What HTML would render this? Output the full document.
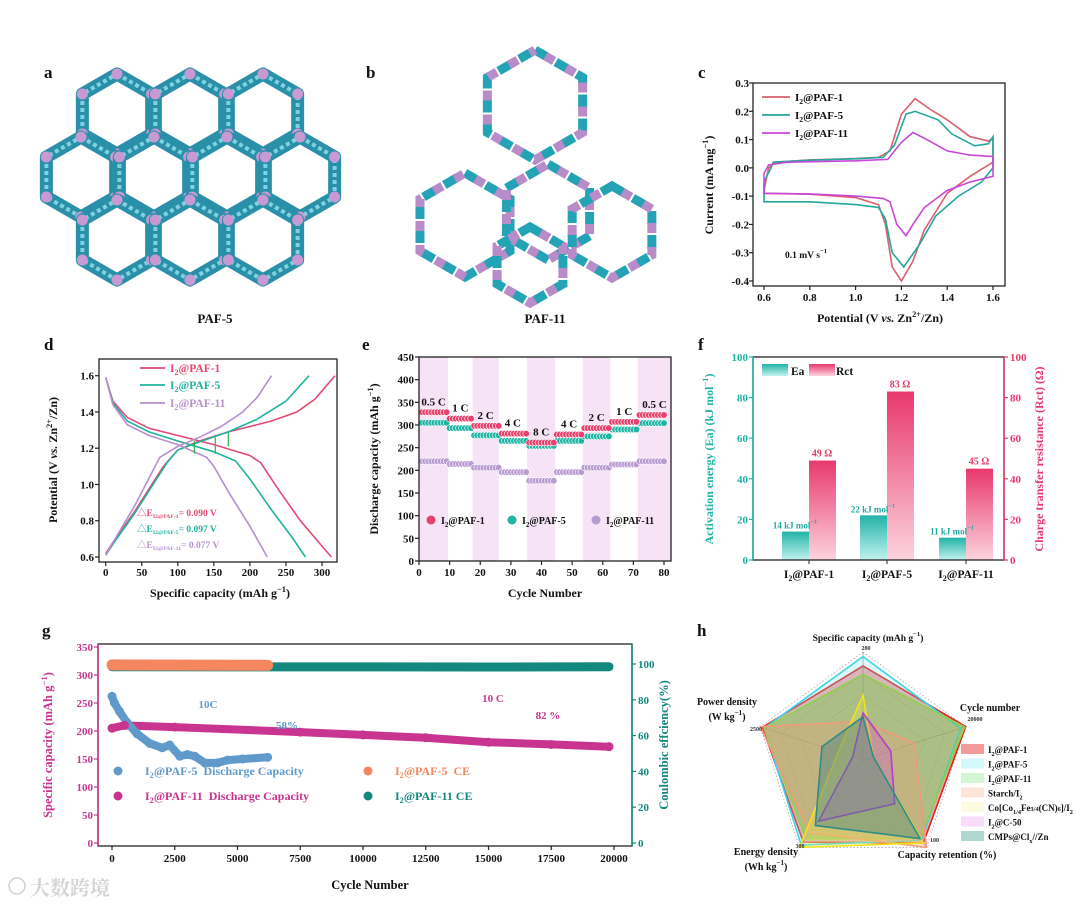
<!DOCTYPE html>
<html><head><meta charset="utf-8"><style>
html,body{margin:0;padding:0;background:#fff;}
svg{display:block;font-family:"Liberation Serif","Noto Serif CJK SC",serif;font-weight:bold;}
</style></head><body>
<svg id="fig" width="1080" height="913" viewBox="0 0 1080 913" xmlns="http://www.w3.org/2000/svg">
<defs>
<linearGradient id="gEa" x1="0" y1="0" x2="0" y2="1"><stop offset="0" stop-color="#22b3a8"/><stop offset="1" stop-color="#c2f2ef"/></linearGradient>
<linearGradient id="gRct" x1="0" y1="0" x2="0" y2="1"><stop offset="0" stop-color="#e8386d"/><stop offset="1" stop-color="#fcd3de"/></linearGradient>
</defs>
</svg>
<script>
// ===== Data: panel c (CV) =====
const cvPaf1 = [[0.6,-0.08],[0.62,0.0],[0.65,0.02],[0.8,0.028],[1.0,0.033],[1.1,0.037],[1.15,0.06],[1.2,0.19],[1.26,0.245],[1.32,0.21],[1.4,0.17],[1.5,0.11],[1.58,0.095],[1.6,0.105],[1.6,0.02],[1.5,-0.03],[1.4,-0.09],[1.3,-0.22],[1.25,-0.33],[1.2,-0.40],[1.16,-0.35],[1.13,-0.2],[1.1,-0.13],[1.0,-0.105],[0.8,-0.093],[0.6,-0.09],[0.6,-0.08]];
const cvPaf5 = [[0.6,-0.05],[0.63,0.0],[0.64,0.02],[0.8,0.027],[1.0,0.032],[1.12,0.037],[1.17,0.08],[1.22,0.19],[1.26,0.2],[1.36,0.17],[1.42,0.12],[1.52,0.078],[1.58,0.085],[1.6,0.11],[1.6,0.0],[1.55,-0.05],[1.45,-0.1],[1.35,-0.17],[1.28,-0.27],[1.21,-0.35],[1.16,-0.3],[1.13,-0.18],[1.1,-0.14],[1.0,-0.13],[0.8,-0.12],[0.6,-0.12],[0.6,-0.05]];
const cvPaf11 = [[0.6,-0.02],[0.62,0.01],[0.7,0.02],[1.0,0.025],[1.14,0.03],[1.2,0.09],[1.25,0.125],[1.3,0.105],[1.4,0.06],[1.5,0.045],[1.6,0.04],[1.6,-0.03],[1.5,-0.05],[1.4,-0.08],[1.3,-0.14],[1.25,-0.2],[1.22,-0.24],[1.18,-0.2],[1.15,-0.12],[1.12,-0.108],[1.0,-0.1],[0.8,-0.092],[0.6,-0.09],[0.6,-0.02]];
const cvTicksX = [0.6,0.8,1.0,1.2,1.4,1.6];
const cvTicksY = [-0.4,-0.3,-0.2,-0.1,0.0,0.1,0.2,0.3];
// ===== Data: panel d (GCD) =====
const dDis1 = [[0,1.59],[10,1.46],[30,1.37],[60,1.31],[100,1.27],[150,1.22],[200,1.16],[215,1.12],[240,0.97],[270,0.8],[300,0.66],[313,0.6]];
const dChg1 = [[0,0.62],[10,0.68],[40,0.85],[80,1.1],[100,1.19],[130,1.24],[170,1.29],[230,1.35],[265,1.40],[290,1.47],[318,1.6]];
const dDis5 = [[0,1.59],[10,1.45],[30,1.35],[60,1.29],[100,1.24],[150,1.18],[180,1.13],[200,1.03],[230,0.86],[260,0.7],[277,0.6]];
const dChg5 = [[0,0.61],[10,0.67],[40,0.84],[85,1.12],[100,1.19],[130,1.235],[170,1.29],[210,1.36],[250,1.46],[282,1.6]];
const dDis11 = [[0,1.59],[10,1.44],[30,1.33],[60,1.27],[100,1.22],[140,1.15],[150,1.1],[170,0.96],[200,0.77],[224,0.6]];
const dChg11 = [[0,0.61],[10,0.68],[40,0.88],[75,1.15],[100,1.21],[130,1.26],[160,1.32],[190,1.4],[210,1.48],[230,1.6]];
const dArrows = [[123,1.17,1.24],[152,1.17,1.26],[170,1.21,1.29]];
const dTicksX = [0,50,100,150,200,250,300];
const dTicksY = [0.6,0.8,1.0,1.2,1.4,1.6];
// ===== Data: panel e (rate) =====
const eRates = ["0.5 C","1 C","2 C","4 C","8 C","4 C","2 C","1 C","0.5 C"];
const eBlockEdges = [0,9.5,17.5,26,35.3,44.5,53.5,62.5,71.5,82.3];
const ePaf1 = [328,314,298,281,261,279,293,307,322];
const ePaf5 = [305,293,277,265,254,265,275,290,304];
const ePaf11 = [220,214,206,196,177,196,206,213,220];
const eTicksX = [0,10,20,30,40,50,60,70,80];
const eTicksY = [0,50,100,150,200,250,300,350,400,450];
// ===== Data: panel f (bars) =====
const fCats = ["PAF-1","PAF-5","PAF-11"];
const fEa = [14,22,11];
const fRct = [49,83,45];
const fTicks = [0,20,40,60,80,100];
// ===== Data: panel g (cycling) =====
const gPaf5Cap = [[0,262],[100,250],[300,235],[600,215],[1000,195],[1500,178],[2000,170],[2300,175],[2700,155],[3000,158],[3300,155],[3700,143],[4200,143],[4600,148],[5200,150],[6200,153]];
const gPaf11Cap = [[0,205],[500,210],[2500,207],[7500,198],[10000,193],[12500,188],[15000,180],[17500,176],[19800,172]];
const gPaf5CE = [[0,99.5],[6200,99.3]];
const gPaf11CE = [[0,98.5],[14800,98.3],[19800,98.5]];
const gTicksX = [0,2500,5000,7500,10000,12500,15000,17500,20000];
const gTicksY = [0,50,100,150,200,250,300,350];
const gTicksR = [0,20,40,60,80,100];
// ===== Data: panel h (radar) =====
const hAxes = ["Specific capacity","Cycle number","Capacity retention","Energy density","Power density"];
const hMax = [280,20000,100,300,2500];
const hSeriesNames = ["PAF-1","PAF-5","PAF-11","Starch","Co","C50","CMPs"];
const hPaf1 = [244,20000,95,282,2450];
const hPaf5 = [268,19000,92,292,2400];
const hPaf11 = [222,19800,90,270,2400];
const hStarch = [100,10000,100,250,2500];
const hCo = [168,2000,95,300,600];
const hC50 = [122,5400,50,210,250];
const hCMP = [112,2000,90,225,1000];

const NS = "http://www.w3.org/2000/svg";
const S = document.getElementById('fig');
function el(tag, attrs, name, parent){
  const e = document.createElementNS(NS, tag);
  for (const k in attrs) e.setAttribute(k, attrs[k]);
  
  
  (parent || S).appendChild(e);
  return e;
}
function tx(x, y, html, size, fill, anchor, name, rot){
  const a = {x:x, y:y, 'font-size':size, fill:fill||'#111', 'text-anchor':anchor||'start'};
  if (rot) a.transform = 'rotate(' + rot + ' ' + x + ' ' + y + ')';
  const t = el('text', a, name);
  t.innerHTML = html;
  return t;
}
const sub = s => '<tspan font-size="70%" dy="3">' + s + '</tspan><tspan dy="-3">';
const I2 = n => 'I' + sub('2') + '@' + n + '</tspan>';
const sup = s => '<tspan font-size="70%" dy="-5">' + s + '</tspan><tspan dy="5">';
function frame(x0,y0,x1,y1,name,stroke){ el('rect',{x:x0,y:y0,width:x1-x0,height:y1-y0,fill:'none',stroke:stroke||'#222','stroke-width':1.3},name); }
function xTicks(vals, f, yb, ylab, fmt, name, size){
  vals.forEach(v => {
    el('line',{x1:f(v),x2:f(v),y1:yb,y2:yb+4,stroke:'#222','stroke-width':1.2}, name+'-tick');
    tx(f(v), ylab, fmt(v), size||11, '#111', 'middle', name+'-label');
  });
}
function yTicks(vals, f, xb, xlab, fmt, name, color, anchor, dir){
  vals.forEach(v => {
    el('line',{x1:xb,x2:xb+(dir||-4),y1:f(v),y2:f(v),stroke:color||'#222','stroke-width':1.2}, name+'-tick');
    tx(xlab, f(v)+4, fmt(v), 11, color||'#111', anchor||'end', name+'-label');
  });
}
function path(pts, fx, fy){ return pts.map((p,i)=>(i?'L':'M')+fx(p[0]).toFixed(1)+','+fy(p[1]).toFixed(1)).join(''); }

// ===== Panel a =====
tx(44,78,'a',17,'#111','start','panel-a-label');
const aCenters = [[117,114],[190,114],[263,114],[81,177],[154,177],[227,177],[300,177],[117,240],[190,240],[263,240]];
function hexPts(cx,cy,R){ let s=[]; for(let k=0;k<6;k++){const a=Math.PI/180*(60*k-90); s.push([cx+R*Math.cos(a), cy+R*Math.sin(a)]);} return s; }
aCenters.forEach(c => {
  const p = hexPts(c[0],c[1],40);
  el('polygon',{points:p.map(q=>q.join(',')).join(' '),fill:'none',stroke:'#2a8fa8','stroke-width':13,'stroke-linejoin':'round'},'paf5-hex-wall');
  el('polygon',{points:p.map(q=>q.join(',')).join(' '),fill:'none',stroke:'#7fd3e0','stroke-width':4,'stroke-dasharray':'4 3'},'paf5-hex-highlight');
  p.forEach(q => el('circle',{cx:q[0],cy:q[1],r:5.5,fill:'#c79ad3'},'paf5-node'));
});
tx(215,323,'PAF-5',13,'#111','middle','paf5-caption');
// ===== Panel b =====
tx(366,78,'b',17,'#111','start','panel-b-label');
const bRings = [[535,105,55],[465,225,52],[548,212,48],[612,232,46],[530,265,38]];
bRings.forEach(r => {
  const p = hexPts(r[0],r[1],r[2]).map(q=>q.join(',')).join(' ');
  el('polygon',{points:p,fill:'none',stroke:'#23a3b5','stroke-width':9,'stroke-dasharray':'14 10'},'paf11-ring-cyan');
  el('polygon',{points:p,fill:'none',stroke:'#b88bc9','stroke-width':9,'stroke-dasharray':'10 14','stroke-dashoffset':12},'paf11-ring-purple');
});
tx(545,323,'PAF-11',13,'#111','middle','paf11-caption');

// ===== Panel c =====
tx(698,78,'c',17,'#111','start','panel-c-label');
const xc = v => 764 + (v-0.6)*229, yc = v => 83 + (0.3-v)/0.7*198;
[[cvPaf1,'#d9606e','cv-paf1'],[cvPaf5,'#21a89c','cv-paf5'],[cvPaf11,'#c846d8','cv-paf11']].forEach(s => el('path',{d:path(s[0],xc,yc),fill:'none',stroke:s[1],'stroke-width':1.6},s[2]));
frame(753,83,1005,286,'cv-frame');
xTicks(cvTicksX, xc, 286, 301, v=>v.toFixed(1), 'cv-x');
yTicks(cvTicksY, yc, 753, 749, v=>v.toFixed(1), 'cv-y');
tx(713,185,'Current (mA mg'+sup('−1')+')</tspan>',12,'#111','middle','cv-y-title',-90);
tx(880,322,'Potential (V <tspan font-style="italic">vs.</tspan> Zn'+sup('2+')+'/Zn)</tspan>',12,'#111','middle','cv-x-title');
[['PAF-1','#d9606e',97],['PAF-5','#21a89c',115],['PAF-11','#c846d8',133]].forEach(l => {
  el('line',{x1:762,x2:790,y1:l[2],y2:l[2],stroke:l[1],'stroke-width':1.8},'cv-legend-line');
  tx(795,l[2]+4,I2(l[0]),11,'#111','start','cv-legend-entry');
});
tx(785,258,'0.1 mV s'+sup('−1')+'</tspan>',9.5,'#111','start','cv-scan-rate');

// ===== Panel d =====
tx(44,350,'d',17,'#111','start','panel-d-label');
const xd = v => 105.7 + v/300*216.3, yd = v => 557 - (v-0.6)*181.3;
const dCols = ['#e44a72','#1fb3a0','#b68fd0'];
[[dDis1,0],[dChg1,0],[dDis5,1],[dChg5,1],[dDis11,2],[dChg11,2]].forEach(s => el('path',{d:path(s[0],xd,yd),fill:'none',stroke:dCols[s[1]],'stroke-width':1.6},'gcd-curve'));
dArrows.forEach(a => el('line',{x1:xd(a[0]),x2:xd(a[0]),y1:yd(a[1]),y2:yd(a[2]),stroke:'#2bb34a','stroke-width':1.2},'gcd-overpotential-arrow'));
frame(99,359,337,562,'gcd-frame');
xTicks(dTicksX, xd, 562, 576, v=>v, 'gcd-x');
yTicks(dTicksY, yd, 99, 94, v=>v.toFixed(1), 'gcd-y');
tx(57,460,'Potential (V <tspan font-style="italic">vs.</tspan> Zn'+sup('2+')+'/Zn)</tspan>',12,'#111','middle','gcd-y-title',-90);
tx(220,597,'Specific capacity (mAh g'+sup('−1')+')</tspan>',12,'#111','middle','gcd-x-title');
[['PAF-1',368],['PAF-5',385],['PAF-11',403]].forEach((l,i) => {
  el('line',{x1:140,x2:165,y1:l[1],y2:l[1],stroke:dCols[i],'stroke-width':1.8},'gcd-legend-line');
  tx(170,l[1]+4,I2(l[0]),11.5,dCols[i],'start','gcd-legend-entry');
});
[['PAF-1','0.090',516],['PAF-5','0.097',532],['PAF-11','0.077',548]].forEach((l,i) => {
  tx(137,l[2],'△E<tspan font-size="60%" dy="2">I2@'+l[0]+'</tspan><tspan dy="-2">= '+l[1]+' V</tspan>',9.5,dCols[i],'start','gcd-delta-e');
});

// ===== Panel e =====
tx(362,350,'e',17,'#111','start','panel-e-label');
const xe = v => 419 + v/80*245, ye = v => 561 - v/450*204;
for (let i=0;i<9;i++){
  if (i%2===0) el('rect',{x:xe(eBlockEdges[i]),y:357,width:Math.min(xe(eBlockEdges[i+1]),671)-xe(eBlockEdges[i]),height:204,fill:'#f6e4f6'},'rate-shade');
}
const eCols = ['#e8416e','#1fb5a5','#b99bd2'];
[ePaf11,ePaf5,ePaf1].forEach((arr,si) => {
  const col = eCols[2-si];
  for (let c=1;c<=80;c++){
    let b=0; while (b<8 && c>eBlockEdges[b+1]) b++;
    el('circle',{cx:xe(c),cy:ye(arr[b]),r:3.3,fill:col,stroke:'#fff','stroke-width':0.6},'rate-point');
  }
});
for (let i=0;i<9;i++){
  const cx = (xe(eBlockEdges[i]) + Math.min(xe(eBlockEdges[i+1]),671))/2;
  tx(cx, ye(ePaf1[i])-7, eRates[i], 11, '#111','middle','rate-label');
}
frame(419,357,671,561,'rate-frame');
xTicks(eTicksX, xe, 561, 576, v=>v, 'rate-x');
yTicks(eTicksY, ye, 419, 414, v=>v, 'rate-y');
tx(378,459,'Discharge capacity (mAh g'+sup('−1')+')</tspan>',12,'#111','middle','rate-y-title',-90);
tx(545,597,'Cycle Number',12,'#111','middle','rate-x-title');
[['PAF-1',431],['PAF-5',512],['PAF-11',596]].forEach((l,i) => {
  el('circle',{cx:l[1],cy:520,r:4.5,fill:eCols[i]},'rate-legend-marker');
  tx(l[1]+10,524,I2(l[0]),10,'#111','start','rate-legend-entry');
});

// ===== Panel f =====
tx(698,350,'f',17,'#111','start','panel-f-label');
const fCenters = [809,887,966];
const yf = v => 560 - v*2.03;
fCats.forEach((c,i) => {
  el('rect',{x:fCenters[i]-27,y:yf(fEa[i]),width:27,height:560-yf(fEa[i]),fill:'url(#gEa)'},'ea-bar');
  el('rect',{x:fCenters[i],y:yf(fRct[i]),width:27,height:560-yf(fRct[i]),fill:'url(#gRct)'},'rct-bar');
  tx(fCenters[i]-14,yf(fEa[i])-3,fEa[i]+' kJ mol'+sup('−1')+'</tspan>',9,'#1faa9f','middle','ea-value');
  tx(fCenters[i]+13,yf(fRct[i])-4,fRct[i]+' Ω',10,'#e03a6a','middle','rct-value');
  tx(fCenters[i],578,I2(c),11.5,'#111','middle','f-x-label');
  el('line',{x1:fCenters[i],x2:fCenters[i],y1:560,y2:564,stroke:'#222'},'f-x-tick');
});
frame(753,357,1004,560,'f-frame');
el('line',{x1:753,x2:753,y1:357,y2:560,stroke:'#1fb3a5','stroke-width':1.5},'f-left-axis');
el('line',{x1:1004,x2:1004,y1:357,y2:560,stroke:'#e8386d','stroke-width':1.5},'f-right-axis');
yTicks(fTicks, yf, 753, 748, v=>v, 'f-y-left', '#1fb3a5');
yTicks(fTicks, yf, 1004, 1010, v=>v, 'f-y-right', '#e8386d', 'start', 4);
tx(713,459,'Activation energy (Ea) (kJ mol'+sup('−1')+')</tspan>',12,'#1fb3a5','middle','f-y-left-title',-90);
tx(1043,459,'Charge transfer resistance (Rct) (Ω)',12,'#e8386d','middle','f-y-right-title',-90);
el('rect',{x:762,y:364,width:26,height:12,fill:'url(#gEa)'},'f-legend-ea-swatch');
tx(791,375,'Ea',11.5,'#111','start','f-legend-ea');
el('rect',{x:809,y:364,width:26,height:12,fill:'url(#gRct)'},'f-legend-rct-swatch');
tx(836,375,'Rct',11.5,'#111','start','f-legend-rct');

// ===== Panel g =====
tx(42,636,'g',17,'#111','start','panel-g-label');
const xg = v => 112 + v/20000*502, yg = v => 843 - v/350*196, yr = v => 843 - v/100*179;
el('path',{d:path(gPaf11CE,xg,yr),fill:'none',stroke:'#12887e','stroke-width':9,'stroke-linecap':'round'},'paf11-ce-series');
el('path',{d:path(gPaf5CE,xg,yr),fill:'none',stroke:'#f4875f','stroke-width':11,'stroke-linecap':'round'},'paf5-ce-series');
el('path',{d:path(gPaf11Cap,xg,yg),fill:'none',stroke:'#c8348f','stroke-width':8,'stroke-linecap':'round'},'paf11-capacity-series');
el('path',{d:path(gPaf5Cap,xg,yg),fill:'none',stroke:'#5f9acb','stroke-width':8,'stroke-linecap':'round','stroke-linejoin':'round'},'paf5-capacity-series');
gPaf5Cap.forEach(p => el('circle',{cx:xg(p[0]),cy:yg(p[1]),r:4.5,fill:'#5f9acb'},'paf5-capacity-point'));
gPaf11Cap.forEach(p => el('circle',{cx:xg(p[0]),cy:yg(p[1]),r:4.5,fill:'#c8348f'},'paf11-capacity-point'));
frame(98,644,632,846,'g-frame');
el('line',{x1:98,x2:98,y1:644,y2:846,stroke:'#c8348f','stroke-width':1.5},'g-left-axis');
el('line',{x1:632,x2:632,y1:644,y2:846,stroke:'#12887e','stroke-width':1.5},'g-right-axis');
xTicks(gTicksX, xg, 846, 862, v=>v, 'g-x');
yTicks(gTicksY, yg, 98, 93, v=>v, 'g-y-left', '#c8348f');
yTicks(gTicksR, yr, 632, 638, v=>v, 'g-y-right', '#12887e', 'start', 4);
tx(52,745,'Specific capacity (mAh g'+sup('−1')+')</tspan>',12.5,'#c8348f','middle','g-y-left-title',-90);
tx(668,745,'Coulombic effciency(%)',12.5,'#12887e','middle','g-y-right-title',-90);
tx(370,889,'Cycle Number',12.5,'#111','middle','g-x-title');
[[118,775,'#5f9acb','PAF-5','  Discharge Capacity'],[118,800,'#c8348f','PAF-11','  Discharge Capacity'],[368,775,'#f4875f','PAF-5','  CE'],[368,800,'#12887e','PAF-11',' CE']].forEach(l => {
  el('circle',{cx:l[0],cy:l[1]-4,r:4.5,fill:l[2]},'g-legend-marker');
  tx(l[0]+27,l[1],'I'+sub('2')+'@'+l[3]+l[4].replace(/ /g,'&#160;')+'</tspan>',12,l[2],'start','g-legend-entry');
});
tx(208,708,'10C',11,'#5f9acb','middle','g-annot-10c-blue');
tx(287,729,'58%',11,'#5f9acb','middle','g-annot-58');
tx(493,702,'10 C',11,'#c8348f','middle','g-annot-10c');
tx(548,719,'82 %',11,'#c8348f','middle','g-annot-82');

// ===== Panel h =====
tx(697,636,'h',17,'#111','start','panel-h-label');
const hc = [863,760], hR = 108;
const hAng = k => Math.PI/180*(-90 + 72*k);
const hPt = (k,f) => [hc[0]+hR*f*Math.cos(hAng(k)), hc[1]+hR*f*Math.sin(hAng(k))];
[0.2,0.4,0.6,0.8,1.0].forEach(f => {
  el('polygon',{points:[0,1,2,3,4].map(k=>hPt(k,f).join(',')).join(' '),fill:'none',stroke:'#999','stroke-width':0.7,'stroke-dasharray':'1.5 2'},'radar-grid');
});
[0,1,2,3,4].forEach(k => { const p=hPt(k,1); el('line',{x1:hc[0],y1:hc[1],x2:p[0],y2:p[1],stroke:'#777','stroke-width':0.6},'radar-axis'); });
const hSeries = [[hPaf1,'rgba(235,60,60,0.45)','#e62020'],[hPaf5,'rgba(120,230,240,0.25)','#3cd4e8'],[hPaf11,'rgba(120,200,70,0.45)','#8fd14a'],[hStarch,'rgba(240,160,120,0.35)','#f09a7a'],[hCo,'rgba(250,240,80,0.3)','#f2e21a'],[hC50,'rgba(200,80,220,0.3)','#b03fc8'],[hCMP,'rgba(70,130,130,0.45)','#2c8c88']];
hSeries.forEach((s,i) => {
  el('polygon',{points:s[0].map((v,k)=>hPt(k,v/hMax[k]).join(',')).join(' '),fill:s[1],stroke:s[2],'stroke-width':1.6},'radar-series-'+hSeriesNames[i]);
});
tx(868,641,'Specific capacity (mAh g'+sup('−1')+')</tspan>',9.5,'#111','middle','radar-label-capacity');
tx(990,711,'Cycle number',10,'#111','middle','radar-label-cycle');
tx(727,705,'Power density',10,'#111','middle','radar-label-power');
tx(727,720,'(W kg'+sup('−1')+')</tspan>',10,'#111','middle','radar-label-power-unit');
tx(766,855,'Energy density',10,'#111','middle','radar-label-energy');
tx(766,870,'(Wh kg'+sup('−1')+')</tspan>',10,'#111','middle','radar-label-energy-unit');
tx(947,858,'Capacity retention (%)',10,'#111','middle','radar-label-retention');
tx(866,650,'280',6,'#333','middle','radar-max-capacity');
tx(975,721,'20000',6,'#333','middle','radar-max-cycle');
tx(930,842,'100',6,'#333','start','radar-max-retention');
tx(800,848,'300',6,'#333','middle','radar-max-energy');
tx(756,731,'2500',6,'#333','middle','radar-max-power');
const hLeg = [['rgba(240,110,110,0.7)','I'+sub('2')+'@PAF-1</tspan>'],['rgba(200,245,250,0.8)','I'+sub('2')+'@PAF-5</tspan>'],['rgba(200,245,200,0.8)','I'+sub('2')+'@PAF-11</tspan>'],['rgba(252,225,210,0.9)','Starch/I'+sub('2')+'</tspan>'],['rgba(252,250,220,0.9)','Co[Co'+sub('1/4')+'Fe'+'<tspan font-size="70%">3/4</tspan>(CN)<tspan font-size="70%">6</tspan>]/I'+sub('2')+'</tspan>'],['rgba(248,215,250,0.9)','I'+sub('2')+'@C-50</tspan>'],['rgba(170,210,205,0.9)','CMPs@Cl'+sub('x')+'//Zn</tspan>']];
hLeg.forEach((l,i) => {
  const y = 744 + i*14.5;
  el('rect',{x:961,y:y,width:23,height:10,fill:l[0]},'radar-legend-swatch');
  tx(988,y+9,l[1],9,'#111','start','radar-legend-entry');
});

// watermark
el('circle',{cx:17,cy:886,r:8,fill:'none',stroke:'#d0d0d0','stroke-width':1.5},'watermark-logo');
tx(30,895,'大数跨境',20,'#d4d4d4','start','watermark-text');
</script>
</body></html>
